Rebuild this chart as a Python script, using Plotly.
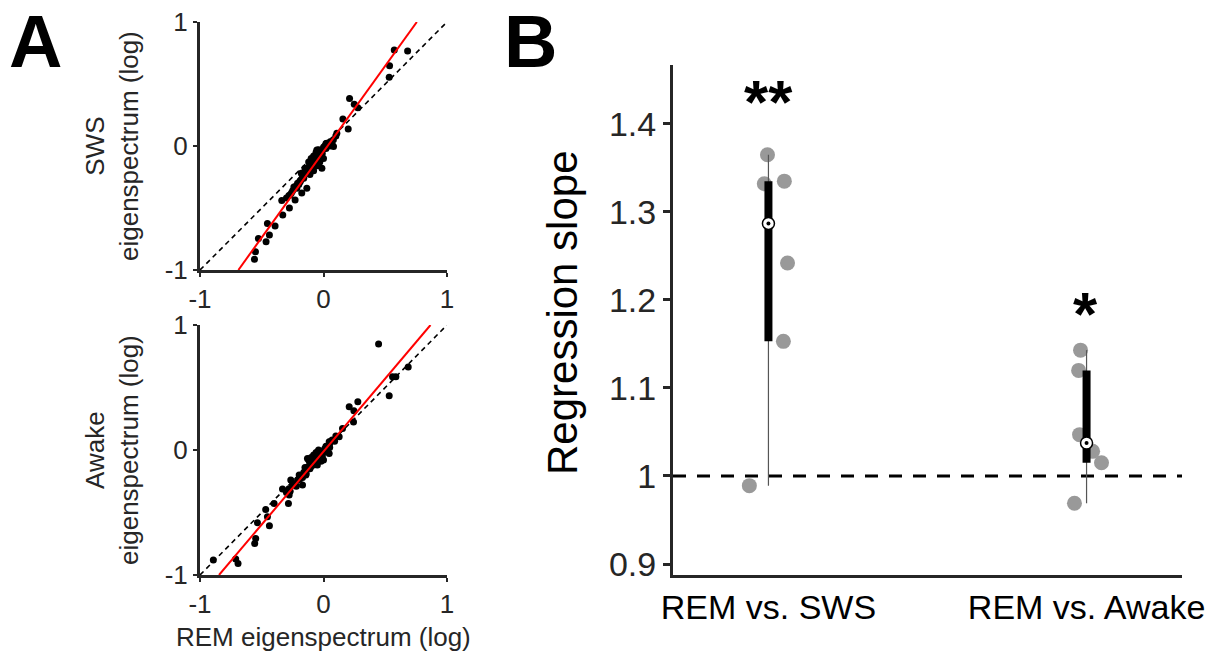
import numpy as np
import plotly.graph_objects as go

W, H = 1211, 661

# ---------------- data ----------------
# Panel A (top): REM vs SWS eigenspectrum (log)
sws_rem = [0.573, 0.681, 0.535, 0.532, 0.211, 0.249, 0.278, 0.157, 0.200, 0.108, 0.027, 0.054, 0.081,
           -0.054, -0.027, -0.013, -0.108, -0.135, -0.162, -0.189, -0.135, -0.176, -0.216, -0.270,
           -0.230, -0.338, -0.276, -0.330, -0.454, -0.392, -0.438, -0.527, -0.465, -0.551, -0.559,
           -0.30, -0.28, -0.26, -0.25, -0.24, -0.22, -0.21, -0.20, -0.19, -0.18, -0.17, -0.16, -0.15,
           -0.14, -0.13, -0.12, -0.11, -0.10, -0.09, -0.08, -0.07, -0.06, -0.05, -0.04, -0.03, -0.02,
           -0.01, 0.00, 0.01, 0.02, 0.03, 0.04, -0.12, -0.10, -0.08, -0.06, -0.04, -0.02, 0.00, -0.05,
           -0.08, -0.11, -0.03, 0.06, 0.08, 0.10,
           -0.07, -0.09, -0.04, 0.02, -0.01, 0.05, 0.07, -0.15, -0.18]
sws_val = [0.774, 0.766, 0.648, 0.554, 0.384, 0.336, 0.309, 0.218, 0.137, 0.102, 0.022, 0.035, -0.005,
           -0.032, -0.100, -0.180, -0.140, -0.180, -0.234, -0.288, -0.340, -0.380, -0.340, -0.395,
           -0.435, -0.440, -0.500, -0.556, -0.624, -0.645, -0.718, -0.745, -0.772, -0.852, -0.914,
           -0.42, -0.40, -0.38, -0.36, -0.33, -0.32, -0.30, -0.31, -0.28, -0.27, -0.25, -0.26, -0.22,
           -0.21, -0.20, -0.18, -0.17, -0.15, -0.13, -0.15, -0.10, -0.12, -0.08, -0.06, -0.07, -0.04,
           -0.03, -0.01, 0.00, -0.02, 0.01, 0.02, -0.13, -0.10, -0.08, -0.05, -0.03, -0.09, -0.10, -0.16,
           -0.20, -0.23, -0.13, 0.03, 0.05, 0.08,
           -0.13, -0.17, -0.10, 0.02, -0.06, 0.00, 0.01, -0.18, -0.22]
sws_fit = [1.384, -0.046]  # slope, intercept

# Panel A (bottom): REM vs Awake eigenspectrum (log)
awk_rem = [0.446, 0.686, 0.559, 0.586, 0.532, 0.208, 0.278, 0.246, 0.243, 0.154, 0.127, 0.100, 0.046,
           0.032, 0.046, -0.130, -0.103, -0.143, -0.197, -0.170, -0.265, -0.332, -0.278, -0.284,
           -0.400, -0.468, -0.454, -0.535, -0.438, -0.549, -0.557, -0.711, -0.692, -0.892,
           -0.30, -0.28, -0.27, -0.25, -0.23, -0.22, -0.21, -0.19, -0.18, -0.17, -0.16, -0.15, -0.14,
           -0.13, -0.12, -0.11, -0.10, -0.09, -0.08, -0.07, -0.06, -0.05, -0.04, -0.03, -0.02, -0.01,
           0.00, 0.01, 0.02, 0.03, 0.04, -0.12, -0.10, -0.08, -0.06, -0.04, -0.02, 0.00, -0.05, 0.05,
           0.07, 0.09,
           -0.07, -0.09, -0.03, 0.02, -0.01, 0.05, -0.15, -0.11, 0.06]
awk_val = [0.848, 0.664, 0.587, 0.587, 0.435, 0.347, 0.387, 0.315, 0.224, 0.173, 0.107, 0.112, 0.067,
           0.027, -0.027, -0.067, -0.133, -0.200, -0.200, -0.280, -0.240, -0.312, -0.360, -0.427,
           -0.427, -0.475, -0.533, -0.581, -0.605, -0.707, -0.747, -0.872, -0.907, -0.880,
           -0.34, -0.31, -0.33, -0.28, -0.27, -0.29, -0.24, -0.23, -0.21, -0.22, -0.18, -0.17, -0.19,
           -0.14, -0.13, -0.15, -0.11, -0.10, -0.12, -0.07, -0.08, -0.05, -0.06, -0.03, -0.04, -0.01,
           -0.02, 0.01, 0.00, 0.03, 0.02, -0.08, -0.06, -0.04, -0.02, 0.00, -0.09, -0.08, -0.12, 0.05,
           0.08, 0.07,
           -0.05, -0.07, -0.06, 0.03, -0.05, 0.02, -0.14, -0.10, 0.07]
awk_fit = [1.168, -0.012]

# Panel B: regression slopes per session
categories = ["REM vs. SWS", "REM vs. Awake"]
slopes_sws = [1.365, 1.332, 1.335, 1.242, 1.153, 0.989]
slopes_awake = [1.143, 1.120, 1.047, 1.028, 1.015, 0.969]
jitter_sws = [-0.003, -0.013, 0.050, 0.060, 0.047, -0.060]
jitter_awake = [-0.019, -0.025, -0.022, 0.019, 0.047, -0.038]
stars = ["**", "*"]

A_ticks = [-1, 0, 1]
B_ticks = [0.9, 1.0, 1.1, 1.2, 1.3, 1.4]
B_ticktext = ["0.9", "1", "1.1", "1.2", "1.3", "1.4"]

# ---------------- layout helpers ----------------
def px_x(p):
    return p / W


def px_y(p):
    return 1 - p / H


FONT = "Liberation Sans, Arial, sans-serif"
AX = "#262626"

fig = go.Figure()

# ---- Panel A scatters ----
for (xs, ys, fit, xa, ya) in [(sws_rem, sws_val, sws_fit, "x", "y"),
                              (awk_rem, awk_val, awk_fit, "x2", "y2")]:
    fig.add_trace(go.Scatter(x=[-1, 1], y=[-1, 1], mode="lines", xaxis=xa, yaxis=ya,
                             line=dict(color="black", width=1.6, dash="5px,4px"),
                             hoverinfo="skip", showlegend=False))
    fig.add_trace(go.Scatter(x=xs, y=ys, mode="markers", xaxis=xa, yaxis=ya,
                             marker=dict(color="black", size=7, line=dict(width=0)),
                             showlegend=False))
    s, b = fit
    x0 = (-1 - b) / s
    x1 = (1 - b) / s
    x1 = min(x1, 1.0)
    fig.add_trace(go.Scatter(x=[x0, x1], y=[s * x0 + b, s * x1 + b], mode="lines", xaxis=xa, yaxis=ya,
                             line=dict(color="#ff0000", width=2), showlegend=False))

# ---- Panel B ----
fig.add_trace(go.Scatter(x=[0.7, 2.3], y=[1, 1], mode="lines", xaxis="x3", yaxis="y3",
                         line=dict(color="black", width=3, dash="13px,11px"), showlegend=False))

for i, (vals, jit) in enumerate([(slopes_sws, jitter_sws), (slopes_awake, jitter_awake)]):
    pos = i + 1
    v = np.array(vals)
    q1, med, q3 = np.percentile(v, [25, 50, 75], method="hazen")
    fig.add_trace(go.Scatter(x=[pos + j for j in jit], y=vals, mode="markers", xaxis="x3", yaxis="y3",
                             marker=dict(color="#999999", size=15, line=dict(width=0)), showlegend=False))
    fig.add_trace(go.Scatter(x=[pos, pos], y=[v.min(), v.max()], mode="lines", xaxis="x3", yaxis="y3",
                             line=dict(color="#555555", width=1.2), showlegend=False))
    fig.add_trace(go.Scatter(x=[pos, pos], y=[q1, q3], mode="lines", xaxis="x3", yaxis="y3",
                             line=dict(color="black", width=8), showlegend=False))
    fig.add_trace(go.Scatter(x=[pos], y=[med], mode="markers", xaxis="x3", yaxis="y3",
                             marker=dict(color="white", size=12, line=dict(color="black", width=1.5)),
                             showlegend=False))
    fig.add_trace(go.Scatter(x=[pos], y=[med], mode="markers", xaxis="x3", yaxis="y3",
                             marker=dict(color="black", size=4, line=dict(width=0)), showlegend=False))

# ---------------- axes ----------------
def a_axis(domain, show_labels=True):
    return dict(domain=domain, range=[-1, 1], tickvals=A_ticks, ticktext=["-1", "0", "1"],
                showline=True, linecolor=AX, linewidth=3, ticks="outside", ticklen=4, tickwidth=2,
                tickcolor=AX, showgrid=False, zeroline=False, mirror=False,
                tickfont=dict(family=FONT, size=26, color=AX), showticklabels=show_labels,
                fixedrange=True)


Ax_dom = [px_x(200), px_x(447)]
top_y = [px_y(270), px_y(22)]
bot_y = [px_y(575), px_y(325)]

fig.update_layout(
    width=W, height=H, margin=dict(l=0, r=0, t=0, b=0, autoexpand=False),
    paper_bgcolor="white", plot_bgcolor="white",
    xaxis=dict(a_axis(Ax_dom), anchor="y"),
    yaxis=dict(a_axis(top_y), anchor="x"),
    xaxis2=dict(a_axis(Ax_dom), anchor="y2"),
    yaxis2=dict(a_axis(bot_y), anchor="x2"),
    xaxis3=dict(domain=[px_x(673), px_x(1182)], range=[0.7, 2.3], anchor="y3",
                tickvals=[1, 2], ticktext=categories, ticks="", showline=True, linecolor=AX,
                linewidth=3, showgrid=False, zeroline=False,
                tickfont=dict(family=FONT, size=34, color="black")),
    yaxis3=dict(domain=[px_y(575), px_y(65)], range=[0.8875, 1.467], anchor="x3",
                tickvals=B_ticks, ticktext=B_ticktext, ticks="outside", ticklen=7, tickwidth=3,
                tickcolor=AX, showline=True, linecolor=AX, linewidth=3, showgrid=False,
                zeroline=False, tickfont=dict(family=FONT, size=34, color=AX)),
    showlegend=False,
)

ann = []
ann.append(dict(text="<b>A</b>", x=px_x(35), y=px_y(42), xref="paper", yref="paper", showarrow=False,
                font=dict(family=FONT, size=74, color="black"), xanchor="center", yanchor="middle"))
ann.append(dict(text="<b>B</b>", x=px_x(530), y=px_y(42), xref="paper", yref="paper", showarrow=False,
                font=dict(family=FONT, size=74, color="black"), xanchor="center", yanchor="middle"))
ann.append(dict(text="SWS<br>eigenspectrum (log)", x=px_x(112), y=px_y(146), xref="paper", yref="paper",
                showarrow=False, textangle=-90, font=dict(family=FONT, size=26, color=AX),
                xanchor="center", yanchor="middle"))
ann.append(dict(text="Awake<br>eigenspectrum (log)", x=px_x(112), y=px_y(450), xref="paper", yref="paper",
                showarrow=False, textangle=-90, font=dict(family=FONT, size=26, color=AX),
                xanchor="center", yanchor="middle"))
ann.append(dict(text="REM eigenspectrum (log)", x=px_x(323), y=px_y(637), xref="paper", yref="paper",
                showarrow=False, font=dict(family=FONT, size=26, color=AX),
                xanchor="center", yanchor="middle"))
ann.append(dict(text="Regression slope", x=px_x(562), y=px_y(313), xref="paper", yref="paper",
                showarrow=False, textangle=-90, font=dict(family=FONT, size=42, color="black"),
                xanchor="center", yanchor="middle"))
star_px = [(768, 97), (1085, 308)]
for s, (sx, sy) in zip(stars, star_px):
    ann.append(dict(text="<b>" + s + "</b>", x=px_x(sx), y=px_y(sy + 5), xref="paper", yref="paper",
                    showarrow=False, font=dict(family=FONT, size=62, color="black"),
                    xanchor="center", yanchor="middle"))
fig.update_layout(annotations=ann)

fig.write_html("out.html", config={"displayModeBar": False},
               post_script="document.body.style.margin='0';")
